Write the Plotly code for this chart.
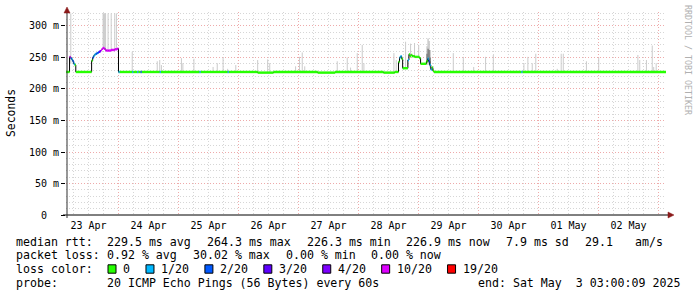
import plotly.graph_objects as go
import pandas as pd

# ---------------- data ----------------
x_start = "2025-04-23 03:00:09"
x_end = "2025-05-03 03:00:09"

median_times = [
    "2025-04-23 03:00", "2025-04-23 04:25", "2025-04-23 04:50", "2025-04-23 05:15", "2025-04-23 05:40",
    "2025-04-23 06:05", "2025-04-23 06:30", "2025-04-23 06:55",
    "2025-04-23 13:15", "2025-04-23 13:40", "2025-04-23 14:05", "2025-04-23 14:30", "2025-04-23 14:55",
    "2025-04-23 15:20", "2025-04-23 15:45", "2025-04-23 16:10", "2025-04-23 16:35", "2025-04-23 17:00",
    "2025-04-23 17:25", "2025-04-23 17:50", "2025-04-23 18:15", "2025-04-23 18:40", "2025-04-23 19:05",
    "2025-04-23 20:00", "2025-04-23 21:00", "2025-04-23 22:00", "2025-04-23 22:30", "2025-04-23 23:30",
    "2025-04-24 00:00", "2025-04-24 00:25",
    "2025-04-24 05:30", "2025-04-24 05:55", "2025-04-24 07:30", "2025-04-24 07:55", "2025-04-24 08:50",
    "2025-04-24 09:15", "2025-04-24 16:30", "2025-04-24 16:55",
    "2025-04-25 08:25", "2025-04-25 08:50", "2025-04-25 19:40", "2025-04-25 20:05",
    "2025-04-26 07:40", "2025-04-26 14:00", "2025-04-27 07:40", "2025-04-27 14:40",
    "2025-04-28 10:00", "2025-04-28 14:30",
    "2025-04-28 16:00", "2025-04-28 16:25", "2025-04-28 16:50", "2025-04-28 17:15", "2025-04-28 17:40",
    "2025-04-28 19:45", "2025-04-28 20:10", "2025-04-28 20:35", "2025-04-28 21:00", "2025-04-28 21:30",
    "2025-04-28 22:30", "2025-04-28 23:30", "2025-04-29 00:20", "2025-04-29 00:50", "2025-04-29 03:10",
    "2025-04-29 03:40", "2025-04-29 04:05", "2025-04-29 04:30", "2025-04-29 04:55", "2025-04-29 05:20",
    "2025-04-29 05:45", "2025-04-29 06:10",
    "2025-04-30 17:10", "2025-04-30 17:35",
]
median_ms = [
    227, 251, 249, 247, 244, 240, 238, 227,
    245, 250, 253, 255, 256, 257, 258, 259, 260, 262, 264, 265, 264, 262, 261, 261, 262, 262, 263, 264,
    227, 227,
    227, 227, 227, 227, 227, 227, 227, 227,
    227, 227, 227, 227,
    226, 227, 226, 227,
    226, 227,
    243, 250, 252, 248, 233, 246, 255, 252, 254, 252, 251, 251, 249, 240, 244, 248, 244, 238, 231, 234, 229, 227,
    227, 227,
]
median_loss = [
    0, 10, 2, 1, 2, 1, 0, 0,
    0, 2, 1, 1, 2, 2, 2, 3, 4, 10, 10, 10, 10, 10, 10, 10, 10, 10, 10, 10,
    1, 0,
    1, 0, 1, 0, 2, 0, 1, 0,
    1, 0, 1, 0,
    0, 0, 0, 0,
    0, 0,
    0, 1, 1, 0, 0, 1, 0, 0, 0, 0, 0, 0, 0, 0, 0, 1, 2, 1, 1, 0, 0, 0,
    1, 0,
]

smoke_times = [
    "2025-04-23 04:55", "2025-04-23 17:50", "2025-04-23 18:05", "2025-04-23 18:20", "2025-04-23 18:35",
    "2025-04-23 18:50", "2025-04-23 19:50", "2025-04-23 21:05", "2025-04-23 22:30", "2025-04-23 23:10",
    "2025-04-24 05:30", "2025-04-24 15:30", "2025-04-24 16:30", "2025-04-24 17:10",
    "2025-04-25 01:10", "2025-04-25 01:45", "2025-04-25 06:10", "2025-04-25 13:50", "2025-04-25 15:30",
    "2025-04-25 17:50", "2025-04-25 19:40", "2025-04-25 22:55",
    "2025-04-26 07:40", "2025-04-26 11:40", "2025-04-26 12:30", "2025-04-26 22:50",
    "2025-04-27 00:25", "2025-04-27 01:30", "2025-04-27 02:30", "2025-04-27 15:30", "2025-04-27 19:30",
    "2025-04-27 20:50", "2025-04-27 23:30",
    "2025-04-28 01:30", "2025-04-28 02:10", "2025-04-28 14:10", "2025-04-28 15:05", "2025-04-28 18:50",
    "2025-04-28 20:50", "2025-04-28 22:25", "2025-04-29 00:05",
    "2025-04-29 13:55", "2025-04-29 17:55", "2025-04-29 22:05",
    "2025-04-30 02:50", "2025-04-30 05:55", "2025-04-30 18:10", "2025-04-30 19:45", "2025-04-30 21:30",
    "2025-04-30 22:55",
    "2025-05-01 07:30", "2025-05-01 09:05", "2025-05-01 09:55", "2025-05-01 19:10",
    "2025-05-02 00:05", "2025-05-02 15:45", "2025-05-02 16:30", "2025-05-02 19:10", "2025-05-02 21:30",
    "2025-05-02 22:05", "2025-05-02 23:05",
]
smoke_low = [
    240, 264, 264, 264, 263, 262, 261, 262, 263, 264,
    227, 227, 227, 227,
    227, 227, 227, 227, 227, 227, 227, 227,
    227, 227, 227, 227,
    227, 227, 227, 227, 227, 227, 227,
    227, 227, 227, 227, 233, 252, 251, 249,
    227, 227, 227,
    227, 227, 227, 227, 227, 227,
    227, 227, 227, 227,
    227, 227, 227, 227, 227, 227, 227,
]
smoke_high = [
    320, 320, 320, 320, 320, 320, 320, 320, 320, 320,
    259, 244, 246, 238,
    249, 241, 248, 235, 241, 250, 232, 238,
    246, 247, 241, 236,
    251, 258, 236, 244, 250, 234, 257,
    270, 241, 257, 246, 275, 272, 273, 270,
    257, 251, 235,
    251, 254, 241, 251, 241, 256,
    232, 256, 256, 244,
    250, 254, 246, 246, 269, 235, 241,
]

dense_times = ["2025-04-29 03:25", "2025-04-29 03:50", "2025-04-29 04:15", "2025-04-29 04:40"]
dense_outer_low = [238, 240, 238, 234]
dense_outer_high = [268, 280, 276, 262]
dense_inner_low = [242, 244, 242, 237]
dense_inner_high = [256, 264, 262, 250]

loss_levels = [0, 1, 2, 3, 4, 10, 19]
loss_labels = ["0", "1/20", "2/20", "3/20", "4/20", "10/20", "19/20"]
loss_colors = ["#26ff00", "#00b8ff", "#0059ff", "#5e00ff", "#7e00ff", "#dd00ff", "#ff0000"]

y_tickvals = [0, 50, 100, 150, 200, 250, 300]
y_ticktext = ["0\u00a0\u00a0", "50 m", "100 m", "150 m", "200 m", "250 m", "300 m"]

rtt_stats = [229.5, 264.3, 226.3, 226.9, 7.9]
am_s = 29.1
loss_stats = [0.92, 30.02, 0.00, 0.00]
probe_text = "20 ICMP Echo Pings (56 Bytes) every 60s"
end_text = "end: Sat May  3 03:00:09 2025"

# ---------------- layout geometry (pixels) ----------------
W, H = 697, 297
L, R, T, B = 66, 666, 12, 215
MONO = "DejaVu Sans Mono"
CW = 6.98  # char advance of legend font
GAP = 16   # gap between legend fields


def px(xp):
    return (xp - L) / (R - L)


def py(yp):
    return (B - yp) / (B - T)


def level_index(loss):
    idx = 0
    for k, lv in enumerate(loss_levels):
        if loss >= lv:
            idx = k
    return idx


fig = go.Figure()

# smoke
sx, sy = [], []
for t, lo, hi in zip(smoke_times, smoke_low, smoke_high):
    sx += [t, t, None]
    sy += [lo, hi, None]
fig.add_trace(go.Scatter(x=sx, y=sy, mode="lines", line=dict(color="#cbcbcb", width=1),
                         hoverinfo="skip", showlegend=False))

for lows, highs, col in [(dense_outer_low, dense_outer_high, "#c4c4c4"),
                         (dense_inner_low, dense_inner_high, "#7a7a7a")]:
    dx, dy = [], []
    for t, lo, hi in zip(dense_times, lows, highs):
        dx += [t, t, None]
        dy += [lo, hi, None]
    fig.add_trace(go.Scatter(x=dx, y=dy, mode="lines", line=dict(color=col, width=1.3),
                             hoverinfo="skip", showlegend=False))

# median: black step connector
mt = list(pd.to_datetime(median_times)) + [pd.Timestamp(x_end)]
mv = median_ms + [median_ms[-1]]
fig.add_trace(go.Scatter(x=mt, y=mv, mode="lines", line=dict(color="#000000", width=1, shape="hv"),
                         hoverinfo="skip", showlegend=False))

# median: coloured by loss
segs = {k: ([], []) for k in range(len(loss_levels))}
for i in range(len(median_ms)):
    k = level_index(median_loss[i])
    segs[k][0].extend([mt[i], mt[i + 1], None])
    segs[k][1].extend([median_ms[i], median_ms[i], None])
for k in range(len(loss_levels)):
    if segs[k][0]:
        fig.add_trace(go.Scatter(x=segs[k][0], y=segs[k][1], mode="lines",
                                 line=dict(color=loss_colors[k], width=2.4),
                                 hoverinfo="skip", showlegend=False))

grid_red = "#eeaaaa"
grid_gray = "#d6d6d6"
dash = "1px,2px"

fig.update_xaxes(
    type="date", range=[x_start, x_end],
    tick0="2025-04-23 00:00", dtick=86400000, ticklabelmode="period", tickformat="%d %b",
    showgrid=True, gridcolor=grid_red, griddash=dash, gridwidth=1,
    minor=dict(dtick=21600000, showgrid=True, gridcolor=grid_gray, griddash=dash, gridwidth=1),
    showline=False, zeroline=False, ticks="", ticklabelstandoff=3,
    tickfont=dict(family=MONO, size=10, color="#000000"),
)
fig.update_yaxes(
    range=[0, 322.2], tickvals=y_tickvals, ticktext=y_ticktext,
    showgrid=True, gridcolor=grid_red, griddash=dash, gridwidth=1,
    minor=dict(dtick=10, showgrid=True, gridcolor=grid_gray, griddash=dash, gridwidth=1),
    showline=False, zeroline=False, ticks="outside", ticklen=4, tickcolor="#000000",
    tickfont=dict(family=MONO, size=10, color="#000000"),
)

shapes = []
# axes lines with arrows
shapes.append(dict(type="line", xref="paper", yref="paper", x0=px(63), x1=px(669), y0=0, y1=0,
                   line=dict(color="#000000", width=1)))
shapes.append(dict(type="line", xref="paper", yref="paper", x0=px(67), x1=px(67), y0=py(218), y1=py(11),
                   line=dict(color="#303030", width=1)))
arrow = "#8b1a1a"
shapes.append(dict(type="path", xref="paper", yref="paper",
                   path=f"M {px(668)},{py(212)} L {px(674)},{py(215)} L {px(668)},{py(218)} Z",
                   fillcolor=arrow, line=dict(color=arrow, width=0.5)))
shapes.append(dict(type="path", xref="paper", yref="paper",
                   path=f"M {px(64)},{py(13)} L {px(67)},{py(7)} L {px(70)},{py(13)} Z",
                   fillcolor=arrow, line=dict(color=arrow, width=0.5)))

annotations = []


def txt(x, y, s, size=11.6, anchor="left", color="#000000", angle=0):
    annotations.append(dict(xref="paper", yref="paper", x=px(x), y=py(y), text=s, showarrow=False,
                            xanchor=anchor, yanchor="middle", textangle=angle, borderpad=0,
                            font=dict(family=MONO, size=size, color=color)))


# y title and watermark
txt(11, 113, "Seconds", size=11.4, anchor="center", angle=-90)
txt(688, 60, "RRDTOOL / TOBI OETIKER", size=8.3, anchor="center", color="#b0b0b0", angle=90)

# legend lines
y1, y2, y3, y4 = 241.5, 255.3, 269, 282.8
txt(15, y1, "median rtt:")
rtt_fields = [f"{rtt_stats[0]:.1f} ms avg", f"{rtt_stats[1]:.1f} ms max", f"{rtt_stats[2]:.1f} ms min",
              f"{rtt_stats[3]:.1f} ms now", f"{rtt_stats[4]:.1f} ms sd", f"{am_s:.1f}"]
xx = 106
for s in rtt_fields:
    txt(xx, y1, s)
    xx += len(s) * CW + GAP
txt(634, y1, "am/s")

txt(15, y2, "packet loss:")
loss_fields = [f"{loss_stats[0]:.2f} % avg", f"{loss_stats[1]:.2f} % max", f"{loss_stats[2]:.2f} % min",
               f"{loss_stats[3]:.2f} % now"]
xx = 106
for s in loss_fields:
    txt(xx, y2, s)
    xx += len(s) * CW + GAP

txt(15, y3, "loss color:")
sw = 108.0
for lab, col in zip(loss_labels, loss_colors):
    shapes.append(dict(type="rect", xref="paper", yref="paper", x0=px(sw), x1=px(sw + 8),
                       y0=py(y3 + 4.2), y1=py(y3 - 4.2), fillcolor=col, line=dict(color="#000000", width=1)))
    txt(sw + 14, y3, lab)
    sw = sw + 15 + len(lab) * CW + 16

txt(15, y4, "probe:")
txt(106, y4, probe_text)
txt(681, y4, end_text, anchor="right")

fig.update_layout(
    width=W, height=H, autosize=False,
    margin=dict(l=L, r=W - R, t=T, b=H - B, pad=0),
    plot_bgcolor="#ffffff", paper_bgcolor="#ffffff",
    shapes=shapes, annotations=annotations, showlegend=False,
    font=dict(family=MONO, size=10, color="#000000"),
)

fig.write_html("out.html")
